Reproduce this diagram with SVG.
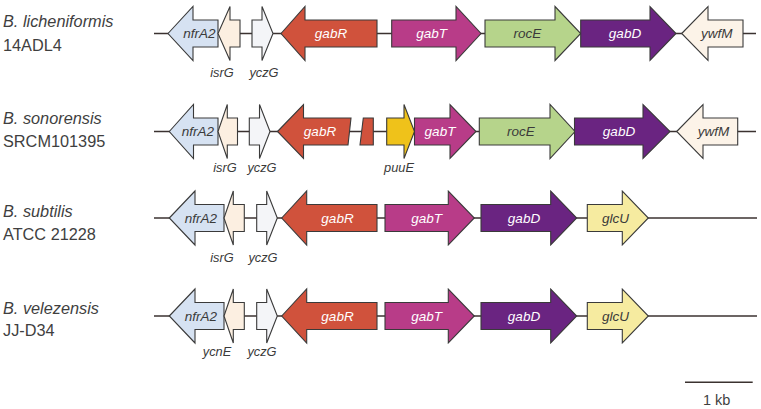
<svg xmlns="http://www.w3.org/2000/svg" width="761" height="409" viewBox="0 0 761 409">
<style>
.bb{stroke:#3b3230;stroke-width:1.5;fill:none}
.g{stroke:#3a3a3a;stroke-width:1.1}
.nfr{fill:#d6e2f2}.isr{fill:#fcefe1}.ycz{fill:#f4f5f8}.gabR{fill:#d0523c}.gabT{fill:#b83c88}
.roc{fill:#b6d48b}.gabD{fill:#6a2481}.ywf{fill:#fcf3e8}.puu{fill:#efc21a}.glc{fill:#f6eba0}
.sp{font-family:"Liberation Sans",Arial,sans-serif;font-size:16.3px;fill:#3f3f3f}
.it{font-style:italic}
.gl{font-family:"Liberation Sans",Arial,sans-serif;font-style:italic;font-size:13.5px;text-anchor:middle;fill:#3a3a3a}
.w{fill:#ffffff}
.sl{font-family:"Liberation Sans",Arial,sans-serif;font-style:italic;font-size:12.8px;text-anchor:middle;fill:#3a3a3a}
</style>
<g id="connectors">
<line class="bb" x1="154" y1="33.5" x2="756" y2="33.5"/>
<line class="bb" x1="154" y1="131.5" x2="756" y2="131.5"/>
<line class="bb" x1="154" y1="218" x2="757" y2="218"/>
<line class="bb" x1="154" y1="316" x2="757" y2="316"/>
</g>
<g id="species-labels">
<text class="sp it" x="3" y="27">B. licheniformis</text>
<text class="sp" x="3" y="50.5">14ADL4</text>
<text class="sp it" x="3" y="123.5">B. sonorensis</text>
<text class="sp" x="3" y="147">SRCM101395</text>
<text class="sp it" x="3" y="216.5">B. subtilis</text>
<text class="sp" x="3" y="239.5">ATCC 21228</text>
<text class="sp it" x="3" y="313.5">B. velezensis</text>
<text class="sp" x="3" y="335.5">JJ-D34</text>
</g>
<!-- Row 1: cy=33.5 -->
<g id="r1-nfrA2"><path class="g nfr" d="M168,33.5 L193,6.5 L193,20 L218,20 L218,47 L193,47 L193,60.5 Z"/><text class="gl" x="199.5" y="38">nfrA2</text></g>
<g id="r1-isrG"><path class="g isr" d="M218,33.5 L230,6.5 L230,20 L240,20 L240,47 L230,47 L230,60.5 Z"/><text class="sl" x="222" y="77">isrG</text></g>
<g id="r1-yczG"><path class="g ycz" d="M252,20 L262,20 L262,6.5 L273,33.5 L262,60.5 L262,47 L252,47 Z"/><text class="sl" x="264" y="77">yczG</text></g>
<g id="r1-gabR"><path class="g gabR" d="M281,33.5 L305,6.5 L305,20 L377,20 L377,47 L305,47 L305,60.5 Z"/><text class="gl w" x="331" y="38">gabR</text></g>
<g id="r1-gabT"><path class="g gabT" d="M391.7,20 L456,20 L456,6.5 L481,33.5 L456,60.5 L456,47 L391.7,47 Z"/><text class="gl w" x="431.7" y="38">gabT</text></g>
<g id="r1-rocE"><path class="g roc" d="M485,20 L555,20 L555,6.5 L580.7,33.5 L555,60.5 L555,47 L485,47 Z"/><text class="gl" x="527.5" y="38">rocE</text></g>
<g id="r1-gabD"><path class="g gabD" d="M580.7,20 L650,20 L650,6.5 L676,33.5 L650,60.5 L650,47 L580.7,47 Z"/><text class="gl w" x="625" y="38">gabD</text></g>
<g id="r1-ywfM"><path class="g ywf" d="M681.7,33.5 L708,6.5 L708,20 L743,20 L743,47 L708,47 L708,60.5 Z"/><text class="gl" x="716.7" y="38">ywfM</text></g>
<!-- Row 2: cy=131.5 -->
<g id="r2-nfrA2"><path class="g nfr" d="M169.3,131.5 L193.5,104.5 L193.5,118 L218,118 L218,145 L193.5,145 L193.5,158.5 Z"/><text class="gl" x="198" y="136">nfrA2</text></g>
<g id="r2-isrG"><path class="g isr" d="M218,131.5 L227.3,104.5 L227.3,118 L237.5,118 L237.5,145 L227.3,145 L227.3,158.5 Z"/><text class="sl" x="225" y="172">isrG</text></g>
<g id="r2-yczG"><path class="g ycz" d="M249.3,118 L259.5,118 L259.5,104.5 L270,131.5 L259.5,158.5 L259.5,145 L249.3,145 Z"/><text class="sl" x="262" y="172">yczG</text></g>
<g id="r2-gabR"><path class="g gabR" d="M277.5,131.5 L303.5,104.5 L303.5,118 L351,118 L348,145 L303.5,145 L303.5,158.5 Z"/><path class="g gabR" d="M363.3,118 L373.3,118 L373.3,145 L360,145 Z"/><text class="gl w" x="320" y="136">gabR</text></g>
<g id="r2-puuE"><path class="g puu" d="M386.7,118 L404,118 L404,104.5 L414.5,131.5 L404,158.5 L404,145 L386.7,145 Z"/><text class="sl" x="399" y="172">puuE</text></g>
<g id="r2-gabT"><path class="g gabT" d="M414.5,118 L450,118 L450,104.5 L476,131.5 L450,158.5 L450,145 L414.5,145 Z"/><text class="gl w" x="440" y="136">gabT</text></g>
<g id="r2-rocE"><path class="g roc" d="M479.3,118 L550,118 L550,104.5 L575,131.5 L550,158.5 L550,145 L479.3,145 Z"/><text class="gl" x="521" y="136">rocE</text></g>
<g id="r2-gabD"><path class="g gabD" d="M574.5,118 L643,118 L643,104.5 L670,131.5 L643,158.5 L643,145 L574.5,145 Z"/><text class="gl w" x="619" y="136">gabD</text></g>
<g id="r2-ywfM"><path class="g ywf" d="M676.7,131.5 L703,104.5 L703,118 L737.7,118 L737.7,145 L703,145 L703,158.5 Z"/><text class="gl" x="713.5" y="136">ywfM</text></g>
<!-- Row 3: cy=218 -->
<g id="r3-nfrA2"><path class="g nfr" d="M169.3,218 L195,191 L195,204.5 L224,204.5 L224,231.5 L195,231.5 L195,245 Z"/><text class="gl" x="201" y="222.5">nfrA2</text></g>
<g id="r3-isrG"><path class="g isr" d="M224,218 L233.3,191 L233.3,204.5 L244.3,204.5 L244.3,231.5 L233.3,231.5 L233.3,245 Z"/><text class="sl" x="222" y="262">isrG</text></g>
<g id="r3-yczG"><path class="g ycz" d="M256.7,204.5 L266.7,204.5 L266.7,191 L277.3,218 L266.7,245 L266.7,231.5 L256.7,231.5 Z"/><text class="sl" x="263" y="262">yczG</text></g>
<g id="r3-gabR"><path class="g gabR" d="M281.7,218 L306.7,191 L306.7,204.5 L377,204.5 L377,231.5 L306.7,231.5 L306.7,245 Z"/><text class="gl w" x="337.5" y="222.5">gabR</text></g>
<g id="r3-gabT"><path class="g gabT" d="M385,204.5 L448.3,204.5 L448.3,191 L474.3,218 L448.3,245 L448.3,231.5 L385,231.5 Z"/><text class="gl w" x="426.7" y="222.5">gabT</text></g>
<g id="r3-gabD"><path class="g gabD" d="M481,204.5 L550.7,204.5 L550.7,191 L576.7,218 L550.7,245 L550.7,231.5 L481,231.5 Z"/><text class="gl w" x="524" y="222.5">gabD</text></g>
<g id="r3-glcU"><path class="g glc" d="M587.3,204.5 L622.3,204.5 L622.3,191 L648.3,218 L622.3,245 L622.3,231.5 L587.3,231.5 Z"/><text class="gl" x="615.5" y="222.5">glcU</text></g>
<!-- Row 4: cy=316 -->
<g id="r4-nfrA2"><path class="g nfr" d="M169.3,316 L195,289 L195,302.5 L224,302.5 L224,329.5 L195,329.5 L195,343 Z"/><text class="gl" x="201" y="320.5">nfrA2</text></g>
<g id="r4-ycnE"><path class="g isr" d="M224,316 L233.3,289 L233.3,302.5 L244.3,302.5 L244.3,329.5 L233.3,329.5 L233.3,343 Z"/><text class="sl" x="217" y="356">ycnE</text></g>
<g id="r4-yczG"><path class="g ycz" d="M256.7,302.5 L266.7,302.5 L266.7,289 L277.3,316 L266.7,343 L266.7,329.5 L256.7,329.5 Z"/><text class="sl" x="262" y="356">yczG</text></g>
<g id="r4-gabR"><path class="g gabR" d="M281.7,316 L306.7,289 L306.7,302.5 L377,302.5 L377,329.5 L306.7,329.5 L306.7,343 Z"/><text class="gl w" x="337.5" y="320.5">gabR</text></g>
<g id="r4-gabT"><path class="g gabT" d="M385,302.5 L448.3,302.5 L448.3,289 L474.3,316 L448.3,343 L448.3,329.5 L385,329.5 Z"/><text class="gl w" x="426.7" y="320.5">gabT</text></g>
<g id="r4-gabD"><path class="g gabD" d="M481,302.5 L550.7,302.5 L550.7,289 L576.7,316 L550.7,343 L550.7,329.5 L481,329.5 Z"/><text class="gl w" x="524" y="320.5">gabD</text></g>
<g id="r4-glcU"><path class="g glc" d="M587.3,302.5 L622.3,302.5 L622.3,289 L648.3,316 L622.3,343 L622.3,329.5 L587.3,329.5 Z"/><text class="gl" x="615.5" y="320.5">glcU</text></g>
<g id="scale-bar">
<line class="bb" x1="685" y1="382.3" x2="752.7" y2="382.3"/>
<text x="716.7" y="404.5" font-family="'Liberation Sans',Arial,sans-serif" font-size="14.5" text-anchor="middle" fill="#3f3f3f">1 kb</text>
</g>
</svg>
